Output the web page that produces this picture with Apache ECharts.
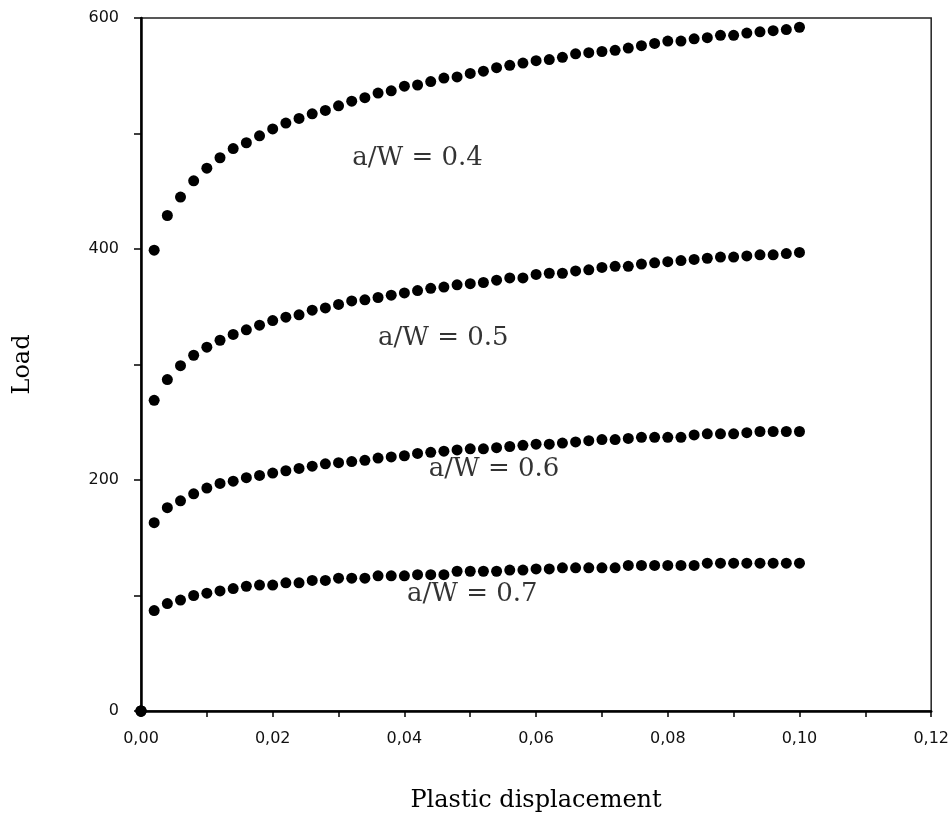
<!DOCTYPE html>
<html>
<head>
<meta charset="utf-8">
<script src="https://cdn.jsdelivr.net/npm/echarts@6/dist/echarts.min.js"></script>
<style>html,body{margin:0;padding:0;background:#fff;}#c{width:952px;height:821px;}</style>
</head>
<body>
<div id="c"></div>
<script>
// x positions: 0.002 steps from 0.002 to 0.100
const xStep = 0.002;
const nPts = 50;
const load04 = [399,429,445,459,470,479,487,492,498,504,509,513,517,520,524,528,531,535,537,541,542,545,548,549,552,554,557,559,561,563,564,566,569,570,571,572,574,576,578,580,580,582,583,585,585,587,588,589,590,592];
const load05 = [269,287,299,308,315,321,326,330,334,338,341,343,347,349,352,355,356,358,360,362,364,366,367,369,370,371,373,375,375,378,379,379,381,382,384,385,385,387,388,389,390,391,392,393,393,394,395,395,396,397];
const load06 = [163,176,182,188,193,197,199,202,204,206,208,210,212,214,215,216,217,219,220,221,223,224,225,226,227,227,228,229,230,231,231,232,233,234,235,235,236,237,237,237,237,239,240,240,240,241,242,242,242,242];
const load07 = [87,93,96,100,102,104,106,108,109,109,111,111,113,113,115,115,115,117,117,117,118,118,118,121,121,121,121,122,122,123,123,124,124,124,124,124,126,126,126,126,126,126,128,128,128,128,128,128,128,128];
const seriesNames = ['a/W = 0.4','a/W = 0.5','a/W = 0.6','a/W = 0.7'];
const labelPos = [[0.042,479],[0.0459,323],[0.0536,209],[0.0503,101]];
const xTicks = [0,0.02,0.04,0.06,0.08,0.10,0.12];
const yTicks = [0,200,400,600];

function build(vals){
  const d = [[0,0]];
  for(let i=0;i<nPts;i++){ d.push([+(xStep*(i+1)).toFixed(3), vals[i]]); }
  return d;
}
const all = [load04,load05,load06,load07];
const chart = echarts.init(document.getElementById('c'));
const tickFont = "'DejaVu Sans',sans-serif";
const serif = "'DejaVu Serif','Liberation Serif',serif";
const series = all.map((v,i)=>({
  name: seriesNames[i], type:'scatter', data: build(v), symbol:'circle', symbolSize:11,
  itemStyle:{color:'#000',opacity:1}, clip:false, silent:true
}));
series.push({
  type:'scatter', symbolSize:0, silent:true,
  data: labelPos.map((p,i)=>({value:p, name:seriesNames[i]})),
  label:{show:true, position:'inside', formatter:p=>p.name, color:'#000', fontFamily:serif, fontSize:26}
});
chart.setOption({
  animation:false,
  backgroundColor:'#fff',
  grid:{left:141,right:19,top:18,bottom:110,show:true,borderColor:'#222',borderWidth:1.5},
  xAxis:{
    type:'value', min:0, max:0.12, interval:0.01,
    name:'Plastic displacement', nameLocation:'middle', nameGap:78,
    nameTextStyle:{fontFamily:serif,fontSize:24,color:'#000'},
    axisLine:{lineStyle:{color:'#000',width:2.5}},
    axisTick:{show:true,length:6,lineStyle:{color:'#000',width:1.5}},
    splitLine:{show:false},
    axisLabel:{color:'#111',fontFamily:tickFont,fontSize:16,margin:20,
      formatter:v=>{ return xTicks.some(t=>Math.abs(t-v)<1e-9) ? v.toFixed(2).replace('.',',') : ''; }}
  },
  yAxis:{
    type:'value', min:0, max:600, interval:100,
    name:'Load', nameLocation:'middle', nameGap:106, nameRotate:90,
    nameTextStyle:{fontFamily:serif,fontSize:24,color:'#000'},
    axisLine:{show:true,lineStyle:{color:'#000',width:2.5}},
    axisTick:{show:true,length:7,lineStyle:{color:'#000',width:1.5}},
    splitLine:{show:false},
    axisLabel:{color:'#111',fontFamily:tickFont,fontSize:16,margin:22,
      formatter:v=> yTicks.indexOf(v)>=0 ? String(v) : ''}
  },
  series: series
});
</script>
</body>
</html>
